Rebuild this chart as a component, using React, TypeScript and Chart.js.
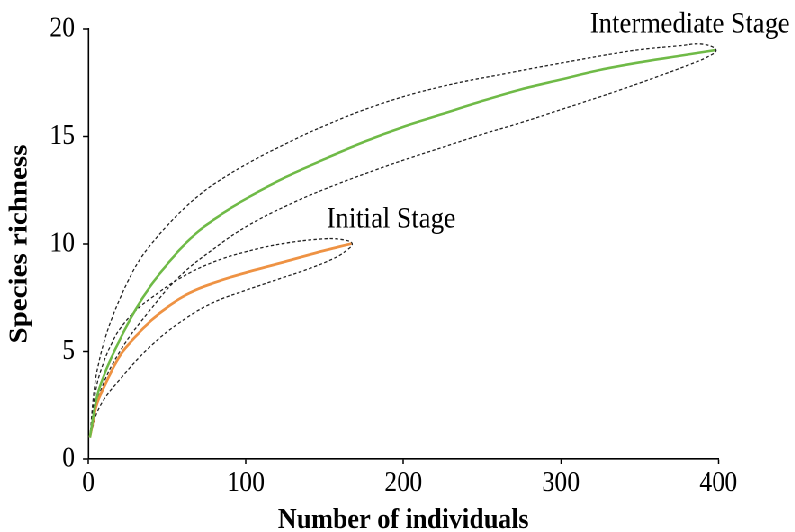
import React, { useEffect, useRef } from "react";
import { Chart, registerables } from "chart.js";

Chart.register(...registerables);

// Horizontal squeeze of the original figure (text looks condensed)
const SX = 0.9;
const W = 883;
const H = 532;

// Axis ticks
const xTicks = [0, 100, 200, 300, 400];
const yTicks = [0, 5, 10, 15, 20];

const stageNames = ["Initial Stage", "Intermediate Stage"];

// Intermediate Stage (green) rarefaction curve
const greenX = [1, 5, 10, 20, 30, 40, 50, 60, 70, 80, 90, 100, 125, 150, 175, 200, 225, 250, 275, 300, 325, 350, 375, 398];
const greenY = [1.0, 2.75, 3.9, 5.55, 6.95, 8.1, 9.05, 9.9, 10.6, 11.15, 11.65, 12.1, 13.1, 13.95, 14.75, 15.45, 16.05, 16.65, 17.2, 17.65, 18.1, 18.45, 18.75, 19.02];

// Intermediate Stage confidence band
const greenUpperX = [1, 4, 7, 11, 15, 20, 25, 32, 40, 50, 60, 70, 80, 100, 125, 150, 185, 223, 270, 310, 333, 351, 375, 390];
const greenUpperY = [1.0, 3.4, 4.6, 5.7, 6.55, 7.45, 8.25, 9.2, 10.0, 10.85, 11.6, 12.25, 12.8, 13.7, 14.65, 15.5, 16.5, 17.3, 18.0, 18.55, 18.85, 19.05, 19.22, 19.3];
const greenLowerX = [1, 7, 20, 40, 58, 80, 100, 125, 150, 175, 200, 225, 250, 275, 300, 333, 360, 380, 393];
const greenLowerY = [1.0, 3.0, 5.0, 7.0, 8.5, 9.8, 10.8, 11.75, 12.55, 13.25, 13.9, 14.5, 15.1, 15.65, 16.25, 17.05, 17.75, 18.3, 18.7];

// Initial Stage (orange) rarefaction curve
const orangeX = [1, 5, 10, 20, 30, 40, 50, 60, 70, 80, 90, 100, 125, 145, 167];
const orangeY = [1.0, 2.45, 3.35, 4.8, 5.7, 6.45, 7.05, 7.55, 7.92, 8.2, 8.45, 8.67, 9.18, 9.6, 10.02];

// Initial Stage confidence band
const orangeUpperX = [1, 5, 10, 15, 20, 30, 41, 58, 79, 100, 122, 147, 160];
const orangeUpperY = [1.0, 3.3, 4.55, 5.4, 6.05, 6.9, 7.55, 8.4, 9.15, 9.64, 10.0, 10.23, 10.22];
const orangeLowerX = [1, 7, 20, 41, 62, 80, 100, 120, 140, 155, 163];
const orangeLowerY = [1.0, 2.4, 3.7, 5.35, 6.55, 7.3, 7.85, 8.35, 8.85, 9.3, 9.65];

const GREEN = "#6fba47";
const ORANGE = "#ee9243";
const FONT = '"Liberation Serif", "Times New Roman", serif';

function pts(xs: number[], ys: number[]) {
  return xs.map((x, i) => ({ x, y: ys[i] }));
}

function envelope(ux: number[], uy: number[], lx: number[], ly: number[], tx: number, ty: number) {
  const up = pts(ux, uy);
  const lo = pts(lx, ly).reverse();
  return [...up, { x: tx, y: ty }, ...lo];
}

const labelPlugin = {
  id: "stageLabels",
  afterDatasetsDraw(chart: any) {
    const { ctx, scales } = chart;
    const xs = scales.x;
    const ys = scales.y;
    const items = [
      { text: stageNames[0], lx: orangeX[orangeX.length - 1], ly: orangeY[orangeY.length - 1], dx: -27.4, dy: -15.9 },
      { text: stageNames[1], lx: greenX[greenX.length - 1], ly: greenY[greenY.length - 1], dx: -139.2, dy: -17.8 },
    ];
    ctx.save();
    ctx.font = `29.5px ${FONT}`;
    ctx.fillStyle = "#000";
    ctx.textAlign = "left";
    ctx.textBaseline = "alphabetic";
    for (const it of items) {
      const px = xs.getPixelForValue(it.lx);
      const py = ys.getPixelForValue(it.ly);
      ctx.fillText(it.text, px + it.dx, py + it.dy);
    }
    ctx.restore();
  },
};

export default function App() {
  const ref = useRef<HTMLCanvasElement | null>(null);

  useEffect(() => {
    document.documentElement.style.overflow = "hidden";
    document.body.style.overflow = "hidden";
    const canvas = ref.current;
    if (!canvas) return;

    const dashed = {
      borderColor: "#222",
      borderWidth: 1.3,
      borderDash: [3.5, 2.5],
      pointRadius: 0,
      tension: 0.4,
      fill: false,
    };

    const chart = new Chart(canvas, {
      type: "line",
      data: {
        datasets: [
          {
            label: stageNames[1],
            data: pts(greenX, greenY),
            borderColor: GREEN,
            borderWidth: 2.6,
            pointRadius: 0,
            cubicInterpolationMode: "monotone",
            fill: false,
          },
          {
            label: stageNames[0],
            data: pts(orangeX, orangeY),
            borderColor: ORANGE,
            borderWidth: 2.8,
            pointRadius: 0,
            cubicInterpolationMode: "monotone",
            fill: false,
          },
          {
            label: "Intermediate CI",
            data: envelope(greenUpperX, greenUpperY, greenLowerX, greenLowerY, greenX[greenX.length - 1] + 0.5, greenY[greenY.length - 1]),
            ...dashed,
          },
          {
            label: "Initial CI",
            data: envelope(orangeUpperX, orangeUpperY, orangeLowerX, orangeLowerY, orangeX[orangeX.length - 1] + 0.5, orangeY[orangeY.length - 1]),
            ...dashed,
          },
        ],
      } as any,
      options: {
        animation: false,
        responsive: false,
        devicePixelRatio: 2,
        layout: { padding: { left: 0, right: 84.7, top: 29, bottom: 0 } },
        plugins: {
          legend: { display: false },
          tooltip: { enabled: false },
          title: { display: false },
        },
        scales: {
          x: {
            type: "linear",
            min: xTicks[0],
            max: xTicks[xTicks.length - 1],
            afterBuildTicks: (s: any) => {
              s.ticks = xTicks.map((v) => ({ value: v }));
            },
            afterFit: (s: any) => {
              s.height = 73;
            },
            ticks: {
              color: "#000",
              font: { family: FONT, size: 28 },
              padding: 3,
              maxRotation: 0,
            },
            grid: {
              display: true,
              drawOnChartArea: false,
              drawTicks: true,
              tickLength: 5,
              tickColor: "#000",
              tickWidth: 1.5,
            },
            border: { display: true, color: "#000", width: 1.6 },
            title: {
              display: true,
              text: "Number of individuals",
              color: "#000",
              font: { family: FONT, size: 29, weight: "bold", lineHeight: 0.8 },
              padding: { top: 0, bottom: 0 },
            },
          },
          y: {
            type: "linear",
            min: yTicks[0],
            max: yTicks[yTicks.length - 1],
            afterBuildTicks: (s: any) => {
              s.ticks = yTicks.map((v) => ({ value: v }));
            },
            afterFit: (s: any) => {
              s.width = 98.1;
            },
            ticks: {
              color: "#000",
              font: { family: FONT, size: 28 },
              padding: 9,
            },
            grid: {
              display: true,
              drawOnChartArea: false,
              drawTicks: true,
              tickLength: 6,
              tickColor: "#000",
              tickWidth: 1.5,
            },
            border: { display: true, color: "#000", width: 1.6 },
            title: {
              display: true,
              text: "Species richness",
              color: "#000",
              font: { family: FONT, size: 29, weight: "bold", lineHeight: 1 },
              padding: { top: 7.7, bottom: 0 },
            },
          },
        },
      } as any,
      plugins: [labelPlugin],
    });

    return () => {
      chart.destroy();
    };
  }, []);

  return (
    <div
      style={{
        position: "absolute",
        left: 0,
        top: 0,
        width: W,
        height: H,
        transform: `scaleX(${SX})`,
        transformOrigin: "0 0",
        background: "#fff",
      }}
    >
      <canvas ref={ref} width={W} height={H} style={{ width: W, height: H, display: "block" }} />
    </div>
  );
}
